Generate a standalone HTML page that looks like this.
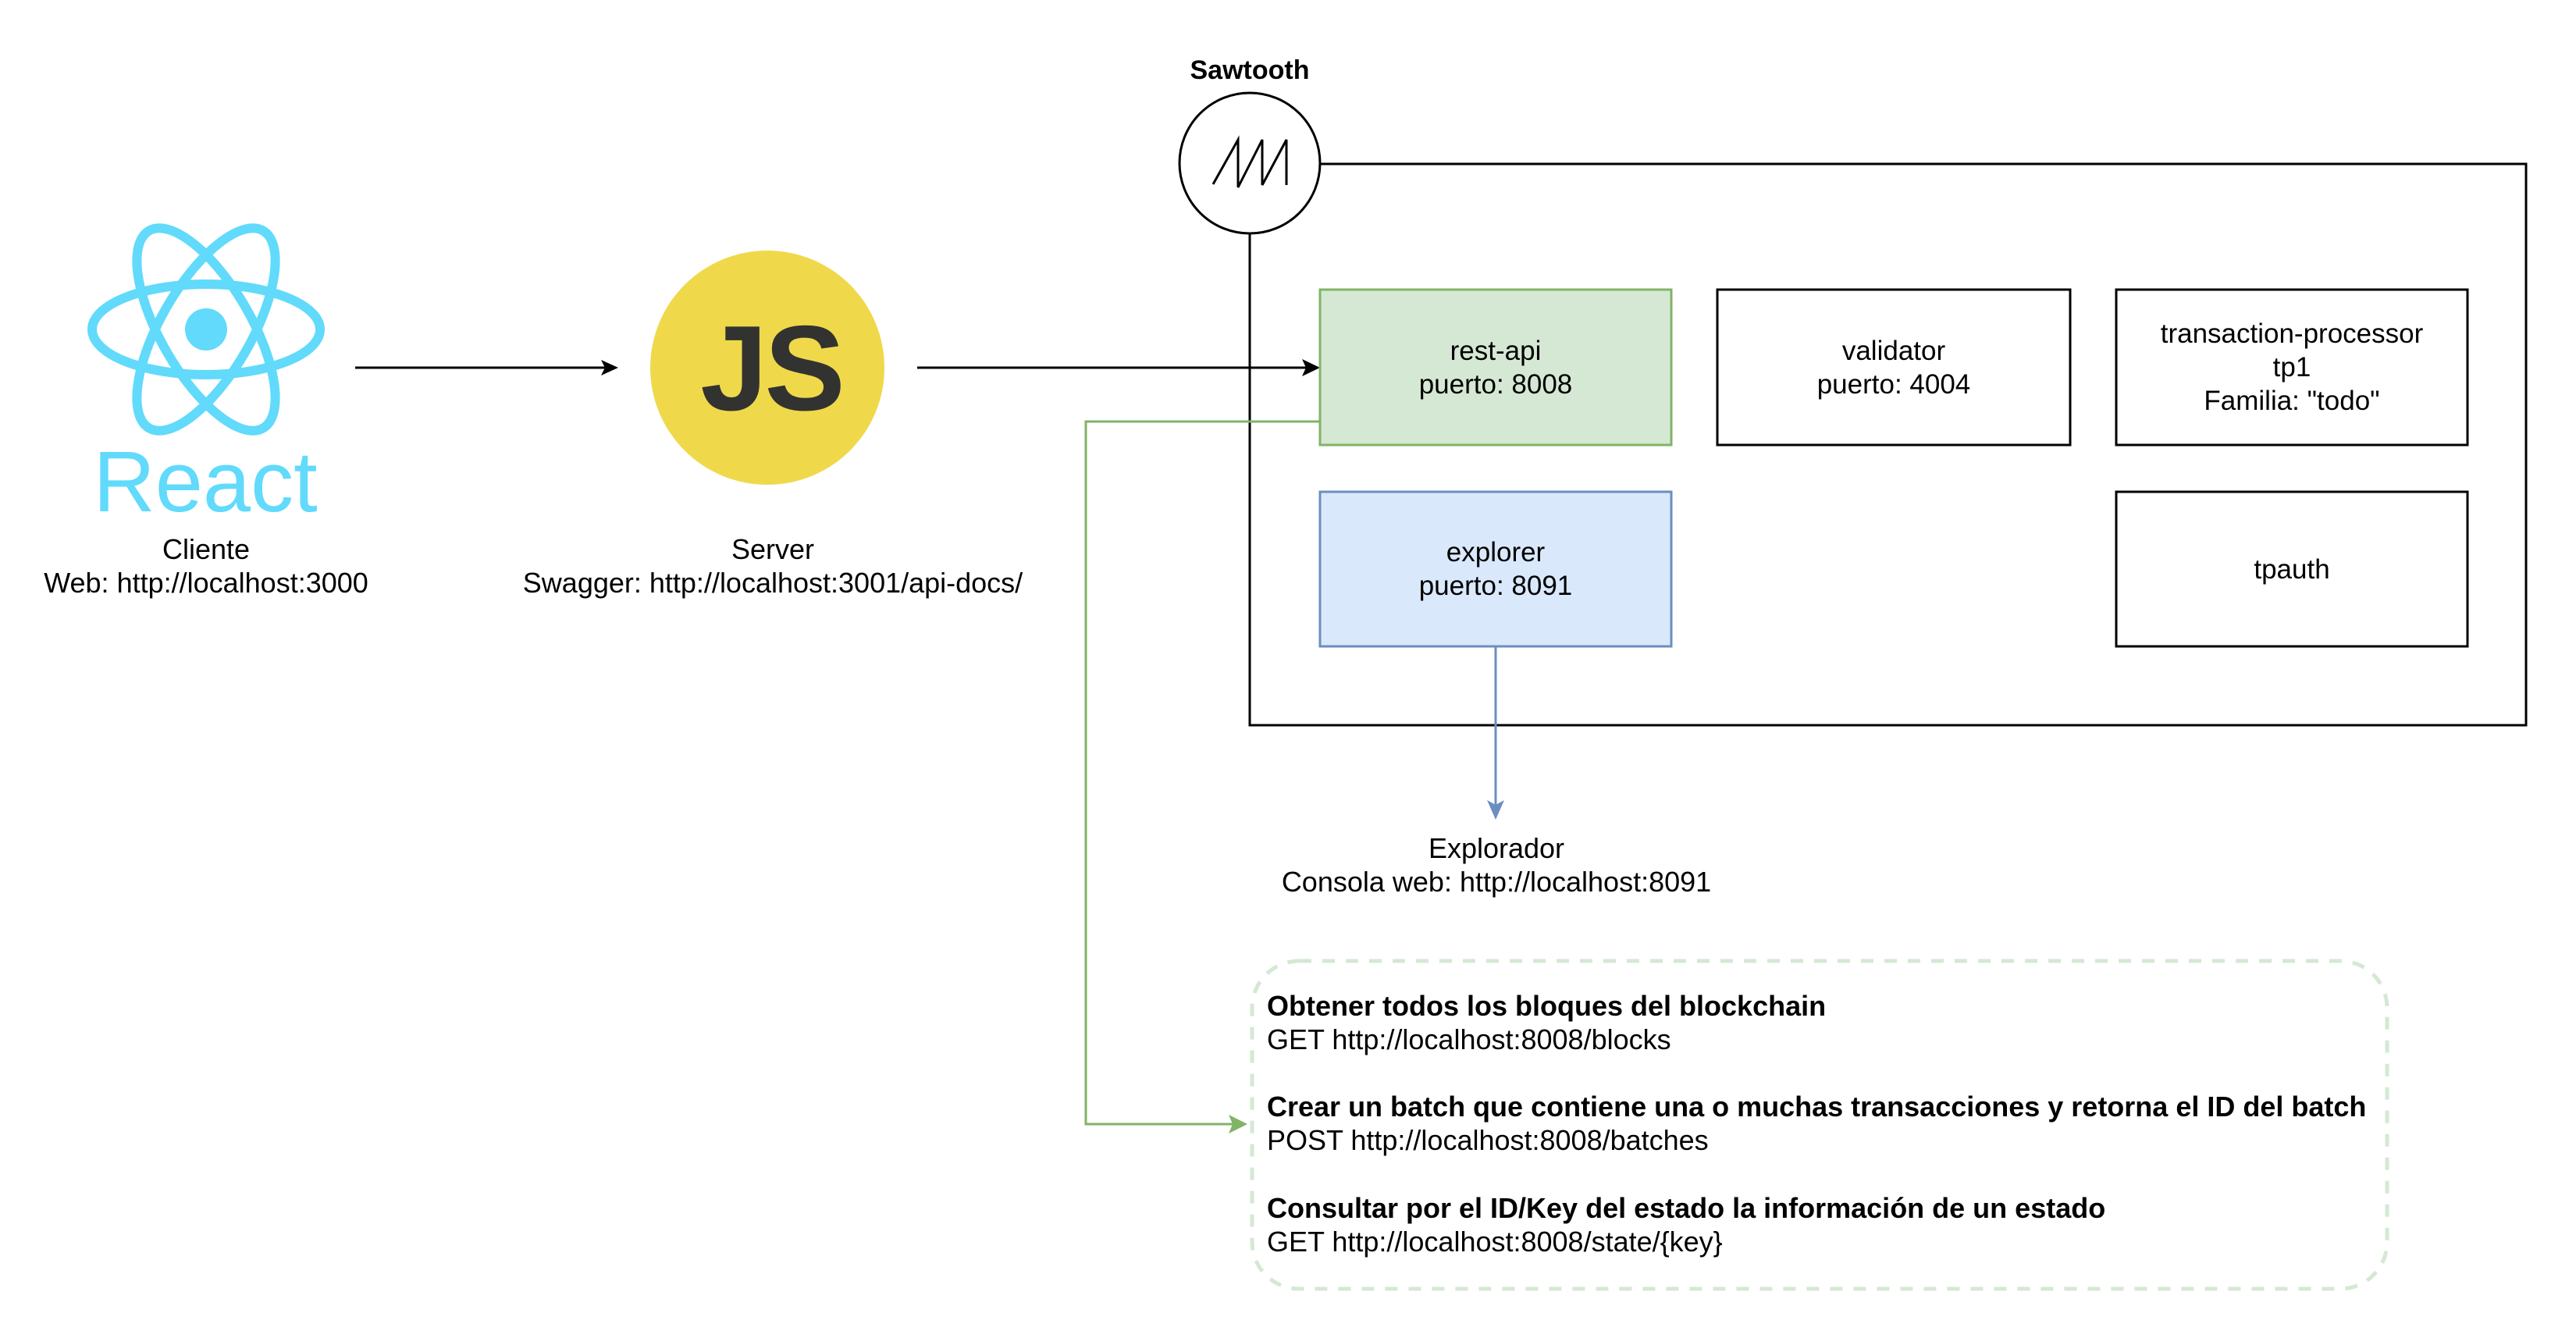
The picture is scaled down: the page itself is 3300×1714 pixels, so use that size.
<!DOCTYPE html>
<html><head><meta charset="utf-8"><style>
html,body{margin:0;padding:0;background:#fff;}
svg{display:block;}
text{font-family:"Liberation Sans",sans-serif;}
</style></head><body>
<svg width="3300" height="1714" viewBox="0 0 3300 1714" xmlns="http://www.w3.org/2000/svg">
<rect width="3300" height="1714" fill="#fff"/>

<!-- React logo -->
<g fill="none" stroke="#61dafb" stroke-width="12">
<ellipse cx="264" cy="422" rx="146" ry="58"/>
<ellipse cx="264" cy="422" rx="146" ry="58" transform="rotate(60 264 422)"/>
<ellipse cx="264" cy="422" rx="146" ry="58" transform="rotate(-60 264 422)"/>
</g>
<circle cx="264" cy="422" r="27" fill="#61dafb"/>
<text x="263" y="655" font-size="110" fill="#61dafb" text-anchor="middle">React</text>
<text x="264" y="716" font-size="36" text-anchor="middle">Cliente</text>
<text x="264" y="759" font-size="36" text-anchor="middle">Web: http://localhost:3000</text>

<!-- arrow 1 -->
<line x1="455" y1="471" x2="780" y2="471" stroke="#000" stroke-width="3"/>
<path d="M770,461 L792,471 L770,481 L775,471z" fill="#000"/>

<!-- JS -->
<circle cx="983" cy="471" r="150" fill="#efd94b"/>
<text x="988" y="525" font-size="155" font-weight="bold" fill="#323330" text-anchor="middle" letter-spacing="-4">JS</text>
<text x="990" y="716" font-size="36" text-anchor="middle">Server</text>
<text x="990" y="759" font-size="36" text-anchor="middle">Swagger: http://localhost:3001/api-docs/</text>

<!-- arrow 2 -->
<line x1="1175" y1="471" x2="1680" y2="471" stroke="#000" stroke-width="3"/>
<path d="M1668,460 L1691,471 L1668,482 L1673,471z" fill="#000"/>

<!-- Sawtooth container -->
<text x="1601" y="101" font-size="34" font-weight="bold" text-anchor="middle">Sawtooth</text>
<rect x="1601" y="210" width="1635" height="719" fill="none" stroke="#000" stroke-width="3"/>
<circle cx="1601" cy="209" r="90" fill="#fff" stroke="#000" stroke-width="3"/>
<polyline points="1554,236 1586,179 1586,240 1617,179 1617,237 1648,179 1648,237" fill="none" stroke="#000" stroke-width="3"/>

<!-- boxes -->
<rect x="1691" y="371" width="450" height="199" fill="#d5e8d4" stroke="#82b366" stroke-width="3"/>
<text x="1916" y="461" font-size="35" text-anchor="middle">rest-api</text>
<text x="1916" y="504" font-size="35" text-anchor="middle">puerto: 8008</text>

<rect x="2200" y="371" width="452" height="199" fill="#fff" stroke="#000" stroke-width="3"/>
<text x="2426" y="461" font-size="35" text-anchor="middle">validator</text>
<text x="2426" y="504" font-size="35" text-anchor="middle">puerto: 4004</text>

<rect x="2711" y="371" width="450" height="199" fill="#fff" stroke="#000" stroke-width="3"/>
<text x="2936" y="439" font-size="35" text-anchor="middle">transaction-processor</text>
<text x="2936" y="482" font-size="35" text-anchor="middle">tp1</text>
<text x="2936" y="525" font-size="35" text-anchor="middle">Familia: "todo"</text>

<rect x="1691" y="630" width="450" height="198" fill="#dae8fc" stroke="#6c8ebf" stroke-width="3"/>
<text x="1916" y="719" font-size="35" text-anchor="middle">explorer</text>
<text x="1916" y="762" font-size="35" text-anchor="middle">puerto: 8091</text>

<rect x="2711" y="630" width="450" height="198" fill="#fff" stroke="#000" stroke-width="3"/>
<text x="2936" y="741" font-size="35" text-anchor="middle">tpauth</text>

<!-- blue arrow -->
<line x1="1916" y1="828" x2="1916" y2="1040" stroke="#6c8ebf" stroke-width="3"/>
<path d="M1905,1025 L1916,1050 L1927,1025 L1916,1031z" fill="#6c8ebf"/>
<text x="1917" y="1099" font-size="36" text-anchor="middle">Explorador</text>
<text x="1917" y="1142" font-size="36" text-anchor="middle">Consola web: http://localhost:8091</text>

<!-- green connector -->
<polyline points="1691,540 1391,540 1391,1440 1585,1440" fill="none" stroke="#82b366" stroke-width="3"/>
<path d="M1574,1428 L1598,1440 L1574,1452 L1579,1440z" fill="#82b366"/>

<!-- dashed box -->
<rect x="1604" y="1231" width="1454" height="420" rx="60" ry="60" fill="none" stroke="#d5e8d4" stroke-width="5" stroke-dasharray="16,14"/>
<g font-size="36">
<text x="1623" y="1301" font-weight="bold">Obtener todos los bloques del blockchain</text>
<text x="1623" y="1344">GET http://localhost:8008/blocks</text>
<text x="1623" y="1430" font-weight="bold">Crear un batch que contiene una o muchas transacciones y retorna el ID del batch</text>
<text x="1623" y="1473">POST http://localhost:8008/batches</text>
<text x="1623" y="1560" font-weight="bold">Consultar por el ID/Key del estado la información de un estado</text>
<text x="1623" y="1603">GET http://localhost:8008/state/{key}</text>
</g>
</svg>
</body></html>
